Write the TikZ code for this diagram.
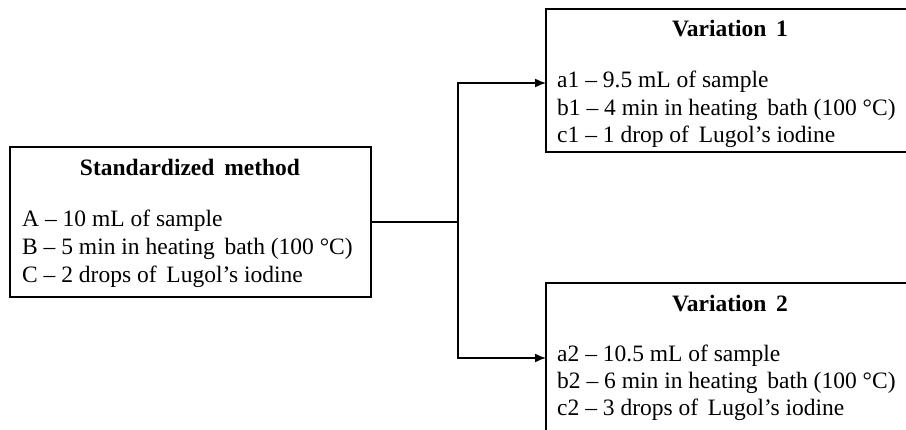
\documentclass[tikz,border=0pt]{standalone}
\usepackage{fontspec}
\setmainfont{Liberation Serif}
\usetikzlibrary{arrows.meta}
\tikzset{
  box/.style={draw=black, line width=1.7pt, fill=white, inner sep=0pt, outer sep=0pt, rectangle},
  ttl/.style={font=\fontsize{23.5}{28}\selectfont\bfseries, inner sep=0pt, anchor=base},
  txt/.style={font=\fontsize{23.5}{28}\selectfont, inner sep=0pt, anchor=base west},
  conn/.style={line width=1.5pt},
  arr/.style={line width=1.5pt, -{Latex[length=11pt,width=9pt]}}
}
\begin{document}
\begin{tikzpicture}[x=1pt,y=-1pt]
\clip (0,0) rectangle (906,430);
\fill[white] (0,0) rectangle (906,430);
% boxes
\node[box, minimum width=361pt, minimum height=150pt, anchor=north west] (std) at (10,147) {};
\node[box, minimum width=380pt, minimum height=143pt, anchor=north west] (v1) at (546,9) {};
\node[box, minimum width=380pt, minimum height=170pt, anchor=north west] (v2) at (546,283) {};
% standardized
\node[ttl] (stdt) at (190,176) {Standardized\, method};
\node[txt] (sa) at (22,227) {A -- 10 mL of sample};
\node[txt] (sb) at (22,255) {B -- 5 min in heating\, bath (100 °C)};
\node[txt] (sc) at (22,283) {C -- 2 drops of\, Lugol’s iodine};
% variation 1
\node[ttl] (v1t) at (730,37) {Variation\, 1};
\node[txt] (v1a) at (557,88) {a1 -- 9.5 mL of sample};
\node[txt] (v1b) at (557,116) {b1 -- 4 min in heating\, bath (100 °C)};
\node[txt] (v1c) at (557,143) {c1 -- 1 drop of\, Lugol’s iodine};
% variation 2
\node[ttl] (v2t) at (730,312) {Variation\, 2};
\node[txt] (v2a) at (557,362) {a2 -- 10.5 mL of sample};
\node[txt] (v2b) at (557,389) {b2 -- 6 min in heating\, bath (100 °C)};
\node[txt] (v2c) at (557,416) {c2 -- 3 drops of\, Lugol’s iodine};
% connectors
\coordinate (split) at (458,222);
\coordinate (in1) at (546,83);
\coordinate (in2) at (546,358);
\draw[conn] (std.east |- split) -- (split);
\draw[arr] (split) |- (in1);
\draw[arr] (split) |- (in2);
\end{tikzpicture}
\end{document}
